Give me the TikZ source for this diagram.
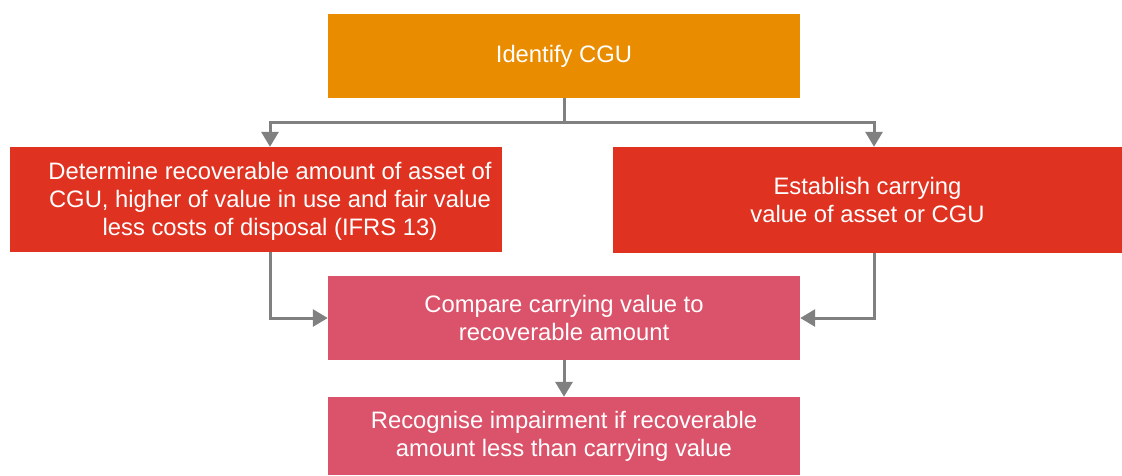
\documentclass[tikz,border=0pt]{standalone}
\usepackage{fontspec}
\setmainfont{Liberation Sans}
\usetikzlibrary{arrows.meta}
\definecolor{cguorange}{HTML}{E98C00}
\definecolor{stepred}{HTML}{E03221}
\definecolor{steppink}{HTML}{DB536A}
\definecolor{linkgray}{HTML}{808080}
\tikzset{
  box/.style={inner sep=0pt, text=white, align=center,
    font=\fontsize{23.8}{28}\selectfont},
  conn/.style={draw=linkgray, line width=3pt,
    -{Triangle[width=17pt,length=15pt]}}
}
\begin{document}
\begin{tikzpicture}[x=1pt,y=-1pt]
\useasboundingbox (0,0) rectangle (1122,475);
% boxes
\node[box, fill=cguorange, minimum width=472pt, minimum height=84pt] (cgu) at (564,56) {Identify CGU};
\node[box, fill=stepred, minimum width=492pt, minimum height=105pt] (rec) at (256,199.5) {};
\node[box] (rectext) at (270,201)
  {Determine recoverable amount of asset of\\CGU, higher of value in use and fair value\\less costs of disposal (IFRS 13)};
\node[box, fill=stepred, minimum width=509pt, minimum height=106pt] (carry) at (867.5,200)
  {Establish carrying\\value of asset or CGU};
\node[box, fill=steppink, minimum width=472pt, minimum height=84pt] (cmp) at (564,318)
  {Compare carrying value to\\recoverable amount};
\node[box, fill=steppink, minimum width=472pt, minimum height=78pt] (imp) at (564,436)
  {Recognise impairment if recoverable\\amount less than carrying value};
% connectors
\coordinate (split) at (564,122);
\draw[conn] (cgu.south) -- (split) -| ([xshift=14pt]rec.north);
\draw[conn] (split) -| ([xshift=6.5pt]carry.north);
\draw[conn] ([xshift=14pt]rec.south) |- (cmp.west);
\draw[conn] ([xshift=6.5pt]carry.south) |- (cmp.east);
\draw[conn] (cmp.south) -- (imp.north);
\end{tikzpicture}
\end{document}
